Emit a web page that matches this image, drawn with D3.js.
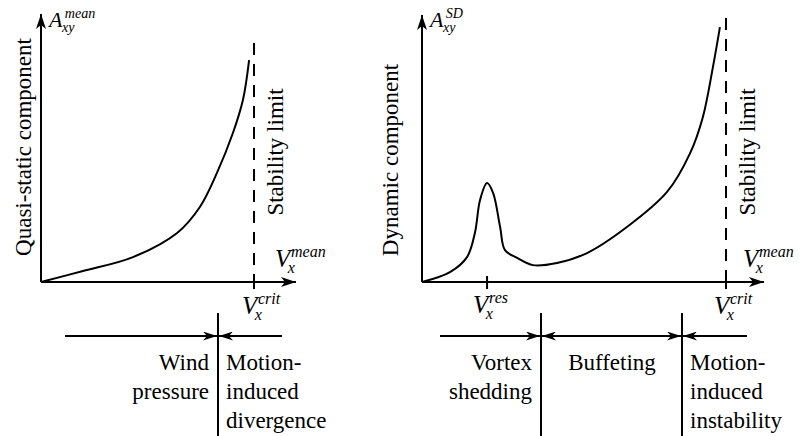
<!DOCTYPE html>
<html>
<head>
<meta charset="utf-8">
<script src="https://cdn.jsdelivr.net/npm/d3@7"></script>
<style>
  html, body { margin: 0; padding: 0; background: #fff; }
  svg { display: block; }
</style>
</head>
<body>
<svg id="chart" width="801" height="436"></svg>
<script>
// Quasi-static response (mean) vs mean wind speed, as fraction of V_crit
const meanSpeed = [0, 0.197, 0.432, 0.639, 0.746, 0.826, 0.901, 0.948, 0.977];
const meanResponse = [0, 0.041, 0.093, 0.183, 0.280, 0.407, 0.556, 0.679, 0.828];

// Dynamic response (standard deviation) vs mean wind speed
const sdSpeed = [0, 0.092, 0.148, 0.174, 0.191, 0.214, 0.234, 0.257, 0.273, 0.313, 0.365, 0.444, 0.543, 0.674, 0.806, 0.882, 0.924, 0.957, 0.980];
const sdResponse = [0, 0.037, 0.093, 0.183, 0.306, 0.369, 0.332, 0.205, 0.119, 0.090, 0.063, 0.071, 0.108, 0.205, 0.336, 0.481, 0.616, 0.802, 0.951];

// Reference speeds on the x axis
const vCrit = 1.0;
const vRes = 0.214;

// Regime labels under each panel
const leftRegimes = [["Wind", "pressure"], ["Motion-", "induced", "divergence"]];
const rightRegimes = [["Vortex", "shedding"], ["Buffeting"], ["Motion-", "induced", "instability"]];

const FONT = "'Liberation Serif', 'Times New Roman', serif";

const svg = d3.select("#chart");
const defs = svg.append("defs");

function arrowMarker(id, len, half, notch) {
  defs.append("marker")
    .attr("id", id)
    .attr("markerUnits", "userSpaceOnUse")
    .attr("viewBox", `${-len} ${-half} ${len} ${half * 2}`)
    .attr("refX", 0).attr("refY", 0)
    .attr("markerWidth", len).attr("markerHeight", half * 2)
    .attr("orient", "auto-start-reverse")
    .append("path")
    .attr("d", `M0,0 L${-len},${-half} L${-len + notch},0 L${-len},${half} Z`)
    .attr("fill", "#000");
}
arrowMarker("axisArrow", 15, 5, 4);
arrowMarker("spanArrow", 14, 4.5, 4);

const y = d3.scaleLinear().domain([0, 1]).range([282, 14]);
const line = (xs) => d3.line()
  .x(d => xs(d[0]))
  .y(d => y(d[1]))
  .curve(d3.curveCatmullRom.alpha(0.5));

function txt(g) {
  return g.append("text").style("font-family", FONT).attr("fill", "#000");
}

// italic symbol with superscript and subscript, e.g. V_x^crit
function symbol(g, x, base, main, sup, sub, size) {
  const w = size * (main === "A" ? 0.72 : 0.64);
  const t = txt(g).style("font-style", "italic").attr("x", x).attr("y", base).attr("font-size", size);
  t.append("tspan").text(main);
  t.append("tspan").attr("x", x + w).attr("dy", -size * 0.42).attr("font-size", size * 0.64).text(sup);
  t.append("tspan").attr("x", x + w - size * 0.13).attr("dy", size * 0.64).attr("font-size", size * 0.64).text(sub);
}

function panel(opts) {
  const g = svg.append("g");
  const x = d3.scaleLinear().domain([0, 1]).range([opts.x0, opts.xCrit]);

  // axes
  g.append("line").attr("x1", x(0)).attr("y1", y(0)).attr("x2", opts.xEnd).attr("y2", y(0))
    .attr("stroke", "#000").attr("stroke-width", 2).attr("marker-end", "url(#axisArrow)");
  g.append("line").attr("x1", x(0)).attr("y1", y(0)).attr("x2", x(0)).attr("y2", opts.yEnd)
    .attr("stroke", "#000").attr("stroke-width", 2).attr("marker-end", "url(#axisArrow)");

  // stability limit
  g.append("line").attr("x1", x(vCrit)).attr("x2", x(vCrit))
    .attr("y1", opts.dashTop).attr("y2", y(0))
    .attr("stroke", "#000").attr("stroke-width", 2).attr("stroke-dasharray", "12,9");
  opts.ticks.forEach(t => {
    g.append("line").attr("x1", x(t)).attr("x2", x(t)).attr("y1", y(0) - 6).attr("y2", y(0) + 7)
      .attr("stroke", "#000").attr("stroke-width", 2);
  });

  // response curve
  g.append("path")
    .datum(d3.zip(opts.xs, opts.ys))
    .attr("d", line(x))
    .attr("fill", "none").attr("stroke", "#000").attr("stroke-width", 2);

  // axis titles
  txt(g).attr("transform", `translate(${opts.titleX},${opts.titleY}) rotate(-90)`)
    .attr("text-anchor", "middle").attr("font-size", 23).text(opts.title);
  txt(g).attr("transform", `translate(${x(vCrit) + 29},152) rotate(-90)`)
    .attr("text-anchor", "middle").attr("font-size", 23).text("Stability limit");

  symbol(g, x(0) + 8, 27, "A", opts.ySup, "xy", 22);
  symbol(g, opts.xEnd - 21, 267, "V", "mean", "x", 25);
  symbol(g, x(vCrit) - 12, 314, "V", "crit", "x", 25);
  if (opts.resLabel) symbol(g, x(vRes) - 14, 313, "V", "res", "x", 25);
  return g;
}

panel({ x0: 41, xCrit: 254, xEnd: 296, yEnd: 14, dashTop: 43,
        xs: meanSpeed, ys: meanResponse, ticks: [vCrit],
        title: "Quasi-static component", titleX: 31, titleY: 147, ySup: "mean" });
panel({ x0: 422, xCrit: 726, xEnd: 764, yEnd: 15, dashTop: 18,
        xs: sdSpeed, ys: sdResponse, ticks: [vRes, vCrit], resLabel: true,
        title: "Dynamic component", titleX: 398, titleY: 160, ySup: "SD" });

// regime bands
const bands = svg.append("g");
const spanY = 336;
function span(x1, x2, both) {
  const l = bands.append("line").attr("x1", x1).attr("y1", spanY).attr("x2", x2).attr("y2", spanY)
    .attr("stroke", "#000").attr("stroke-width", 2).attr("marker-end", "url(#spanArrow)");
  if (both) l.attr("marker-start", "url(#spanArrow)");
}
function divider(x) {
  bands.append("line").attr("x1", x).attr("x2", x).attr("y1", 313).attr("y2", 436)
    .attr("stroke", "#000").attr("stroke-width", 2);
}
function lines(x, anchor, rows) {
  rows.forEach((r, i) => txt(bands).attr("x", x).attr("y", 370 + i * 29)
    .attr("text-anchor", anchor).attr("font-size", 23).text(r));
}

divider(218);
span(65, 217);
span(282, 219);
lines(209, "end", leftRegimes[0]);
lines(226, "start", leftRegimes[1]);

divider(541);
divider(682);
span(440, 540);
span(542, 681, true);
span(747, 683);
lines(532, "end", rightRegimes[0]);
lines(612, "middle", rightRegimes[1]);
lines(690, "start", rightRegimes[2]);
</script>
</body>
</html>
